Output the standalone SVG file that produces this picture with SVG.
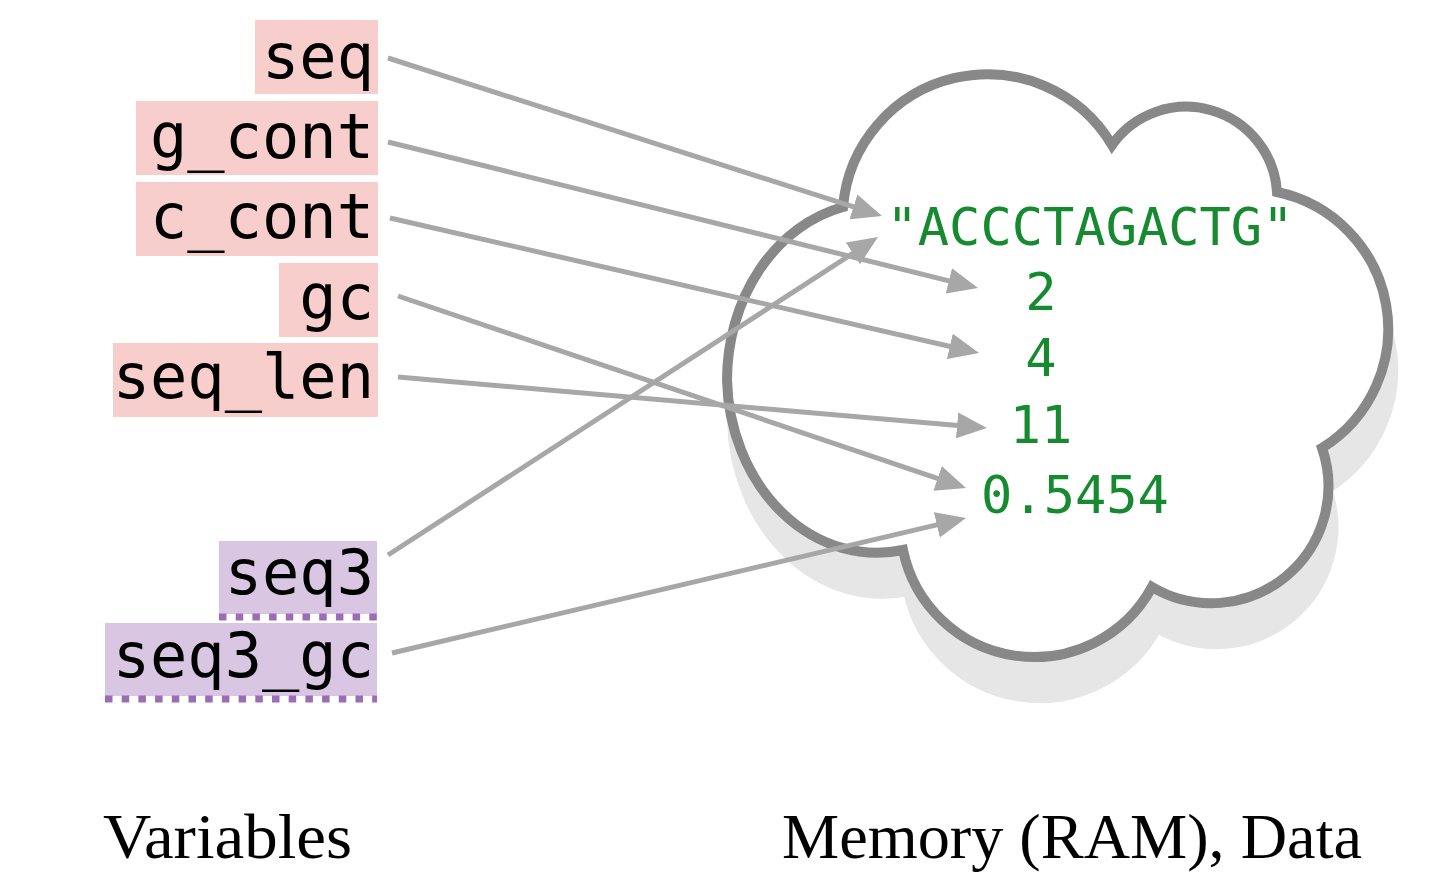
<svg xmlns="http://www.w3.org/2000/svg" width="1446" height="872" viewBox="0 0 1446 872">
  <style>
    .var { font-family: "DejaVu Sans Mono", "Liberation Mono", monospace; font-size: 62px; fill: #000; text-anchor: end; }
    .pink { fill: #f8cecc; }
    .purple { fill: #d9c6e3; }
    .dots { stroke: #9a6db5; stroke-width: 7; stroke-dasharray: 7.5 9.2; fill: none; }
    .val { font-family: "DejaVu Sans Mono", "Liberation Mono", monospace; font-size: 52px; fill: #168a2f; text-anchor: middle; }
    .cap { font-family: "Liberation Serif", "Times New Roman", serif; font-size: 64px; fill: #000; }
    .conn line { stroke: #a6a7a6; stroke-width: 5; fill: none; marker-end: url(#head); }
  </style>
  <defs>
    <marker id="head" markerUnits="userSpaceOnUse" markerWidth="30" markerHeight="26" refX="24" refY="13" orient="auto">
      <path d="M0,0 L30,13 L0,26 z" fill="#a6a7a6"/>
    </marker>
    <path id="cloudPath" d="M843,207 A145,145 0 0 1 1112,145 A91,91 0 0 1 1277,192 A140,140 0 0 1 1322,448 A117,117 0 0 1 1152,587 A134,134 0 0 1 903,550 A150,178 0 0 1 727,380 A150,178 0 0 1 843,207 Z"/>
  </defs>
  <rect width="1446" height="872" fill="#fff"/>

  <g id="memory">
    <use href="#cloudPath" transform="translate(5,41)" fill="#e6e6e6" stroke="#e6e6e6" stroke-width="10"/>
    <use href="#cloudPath" fill="#fff" stroke="#888888" stroke-width="10"/>
  </g>

  <g id="var-seq"><rect class="pink" x="255" y="20" width="123" height="74"/><text class="var" x="374" y="78">seq</text></g>
  <g id="var-g_cont"><rect class="pink" x="136" y="101" width="242" height="74"/><text class="var" x="374" y="158">g_cont</text></g>
  <g id="var-c_cont"><rect class="pink" x="136" y="182" width="242" height="74"/><text class="var" x="374" y="238">c_cont</text></g>
  <g id="var-gc"><rect class="pink" x="279" y="263" width="99" height="74"/><text class="var" x="374" y="319">gc</text></g>
  <g id="var-seq_len"><rect class="pink" x="113" y="343" width="265" height="74"/><text class="var" x="374" y="398">seq_len</text></g>
  <g id="var-seq3"><rect class="purple" x="219" y="541" width="158" height="73"/><line class="dots" x1="219" y1="617" x2="377" y2="617"/><text class="var" x="374" y="594">seq3</text></g>
  <g id="var-seq3_gc"><rect class="purple" x="105" y="623" width="272" height="73"/><line class="dots" x1="105" y1="699" x2="377" y2="699"/><text class="var" x="374" y="677">seq3_gc</text></g>

  <g id="val-str"><text class="val" x="1090" y="245">"ACCCTAGACTG"</text></g>
  <g id="val-2"><text class="val" x="1041" y="310">2</text></g>
  <g id="val-4"><text class="val" x="1041" y="376">4</text></g>
  <g id="val-11"><text class="val" x="1041" y="443">11</text></g>
  <g id="val-gc"><text class="val" x="1075" y="513">0.5454</text></g>

  <g id="connectors" class="conn">
    <line x1="388" y1="58" x2="876.3" y2="214.2"/>
    <line x1="388" y1="142" x2="972.2" y2="286.6"/>
    <line x1="390" y1="218" x2="973.2" y2="351.7"/>
    <line x1="398" y1="296" x2="960.3" y2="486.1"/>
    <line x1="398" y1="377" x2="981.0" y2="427.5"/>
    <line x1="388" y1="555" x2="873.0" y2="240.3"/>
    <line x1="392" y1="653" x2="960.2" y2="519.4"/>
  </g>

  <g id="labels">
    <text class="cap" x="103" y="858" textLength="249" lengthAdjust="spacingAndGlyphs">Variables</text>
    <text class="cap" x="782" y="858" textLength="580" lengthAdjust="spacingAndGlyphs">Memory (RAM), Data</text>
  </g>
</svg>
